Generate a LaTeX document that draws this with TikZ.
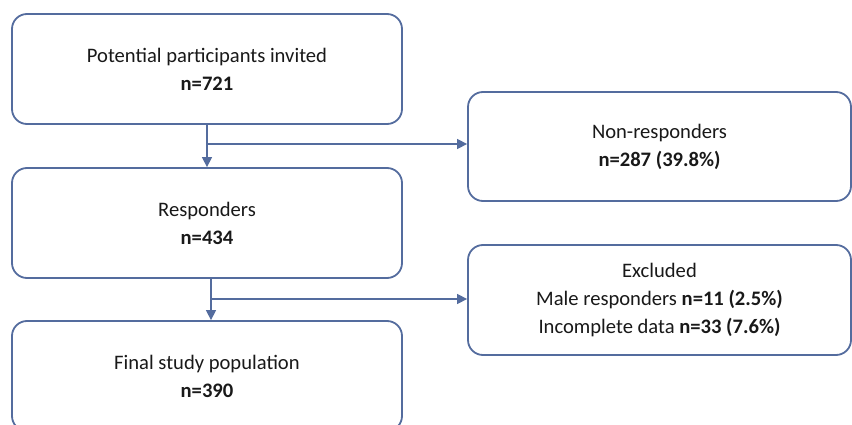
\documentclass[tikz,border=0pt]{standalone}
\usepackage{fontspec}
\setmainfont{Carlito}
\usetikzlibrary{arrows.meta,calc}
\definecolor{boxblue}{RGB}{84,108,158}
\definecolor{txt}{RGB}{25,25,25}
\begin{document}
\begin{tikzpicture}[x=1pt,y=-1pt,
  flowbox/.style={draw=boxblue,line width=1.8pt,rounded corners=15pt,rectangle,
    align=center,text=txt,inner sep=0pt,
    font=\fontsize{20.6}{28}\selectfont},
  arr/.style={draw=boxblue,line width=1.4pt,-{Triangle[length=10pt,width=10pt]}},
  ln/.style={draw=boxblue,line width=1.4pt}]
\clip (0,0) rectangle (852,425);
\fill[white] (0,0) rectangle (852,425);
\node[flowbox,minimum width=390pt,minimum height=110pt] (inv) at (207,69)
  {Potential participants invited\\\textbf{n=721}};
\node[flowbox,minimum width=390pt,minimum height=110pt] (resp) at (207,223)
  {Responders\\\textbf{n=434}};
\node[flowbox,minimum width=390pt,minimum height=110pt] (fin) at (207,376)
  {Final study population\\\textbf{n=390}};
\node[flowbox,minimum width=383pt,minimum height=109pt] (non) at (659.5,146.5)
  {Non-responders\\\textbf{n=287 (39.8\%)}};
\node[flowbox,minimum width=383pt,minimum height=110pt] (excl) at (659.5,300)
  {Excluded\\Male responders \textbf{n=11 (2.5\%)}\\Incomplete data \textbf{n=33 (7.6\%)}};
\coordinate (b1) at (207,144);
\coordinate (b2) at (211,299);
\draw[arr] (inv.south) -- (resp.north);
\draw[arr] (b1) -- (b1 -| non.west);
\draw[arr] ([xshift=4pt]resp.south) -- ([xshift=4pt]fin.north);
\draw[arr] (b2) -- (b2 -| excl.west);
\end{tikzpicture}
\end{document}
